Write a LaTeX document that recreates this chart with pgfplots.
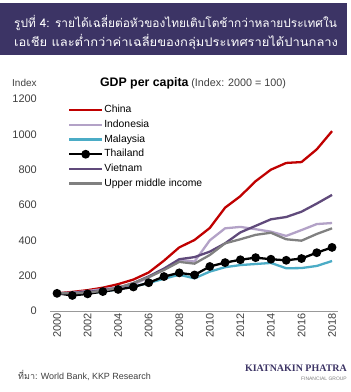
\documentclass[border=0pt]{standalone}
\usepackage{pgfplots}
\pgfplotsset{compat=1.18}
\usepackage{pgfplotstable}
\usepackage{fontspec}
\setmainfont{Liberation Sans}
\newfontfamily\thaifont[Script=Thai]{Loma}
\newfontfamily\logofont{Liberation Serif}
\definecolor{hdr}{HTML}{3C3465}
\definecolor{cChina}{HTML}{C00000}
\definecolor{cIndo}{HTML}{B3A2C7}
\definecolor{cMal}{HTML}{4BACC6}
\definecolor{cViet}{HTML}{604A7B}
\definecolor{cUMI}{HTML}{808080}
\definecolor{gridc}{HTML}{D9D9D9}
\definecolor{tickc}{HTML}{404040}

\pgfplotstableread{
year china indo mal thai viet umi
2000 100 100 100 100 100 100
2001 108 104 95 88 103 100
2002 118 113 100 97 108 104
2003 132 124 110 110 118 115
2004 152 134 123 122 130 132
2005 178 150 138 136 158 158
2006 218 190 158 160 196 192
2007 285 235 183 195 240 232
2008 360 290 205 216 293 278
2009 402 280 185 204 305 268
2010 470 400 223 252 336 317
2011 585 468 248 274 383 383
2012 650 476 260 290 445 406
2013 735 463 266 302 482 431
2014 800 449 272 293 519 443
2015 838 425 242 287 532 406
2016 843 458 243 297 562 398
2017 915 492 255 330 608 436
2018 1018 498 283 360 657 468
}\gdp

\begin{document}
\begin{tikzpicture}
\useasboundingbox (0bp,0bp) rectangle (351bp,392bp);
\fill[white] (0bp,0bp) rectangle (351bp,392bp);
% header
\fill[hdr] (0bp,337bp) rectangle (347bp,389bp);
\node[anchor=west,text=white,font=\thaifont\fontsize{11.9}{14}\selectfont,inner sep=0pt] at (14bp,369bp) {รูปที่ 4: รายได้เฉลี่ยต่อหัวของไทยเติบโตช้ากว่าหลายประเทศใน};
\node[anchor=west,text=white,font=\thaifont\fontsize{11.9}{14}\selectfont,inner sep=0pt,xscale=1.09] at (14bp,350bp) {เอเชีย และต่ำกว่าค่าเฉลี่ยของกลุ่มประเทศรายได้ปานกลาง};
% labels
\node[anchor=west,inner sep=0pt,text=tickc,font=\fontsize{10}{11}\selectfont] at (12bp,309bp) {Index};
\node[anchor=base,inner sep=0pt] at (193bp,305bp) {{\fontsize{12.4}{13}\selectfont\bfseries GDP per capita} {\fontsize{10.8}{11}\selectfont\color{tickc}(Index: 2000 = 100)}};

\begin{axis}[
  at={(50bp,81bp)}, anchor=south west,
  scale only axis, width=288bp, height=212bp,
  xmin=1999.54, xmax=2018.39, ymin=0, ymax=1200,
  axis x line*=bottom, axis y line=none,
  x axis line style={draw=cUMI!80, line width=0.8pt},
  ytick={0,200,...,1200},
  yticklabels={},
  xtick={2000,2002,...,2018},
  xticklabel style={rotate=90, anchor=east, font=\fontsize{11}{11}\selectfont, text=tickc, inner xsep=2bp},
  xticklabel={\pgfmathprintnumber[1000 sep={},assume math mode=true]{\tick}},
  ymajorgrids, grid style={gridc, line width=0.6pt},
  major tick length=0pt,
  clip=false,
  legend style={at={(0.055,0.985)}, anchor=north west, fill=none, draw=none,
    font=\fontsize{10.4}{11}\selectfont, row sep=3.2bp, inner xsep=2bp, inner ysep=2bp,
    nodes={inner sep=1bp, text height=7.5bp, text depth=2bp}},
  legend cell align=left,
  legend image code/.code={\draw[mark repeat=2,mark phase=2] plot coordinates {(0bp,0bp) (16.5bp,0bp) (33bp,0bp)};},
]
\fill[white] (axis cs:2000.07,686) rectangle (axis cs:2012.63,1190);
\addplot[cChina, line width=2.3pt, no marks] table[x=year,y=china] {\gdp};
\addlegendentry{China}
\addplot[cIndo, line width=2.3pt, no marks] table[x=year,y=indo] {\gdp};
\addlegendentry{Indonesia}
\addplot[cMal, line width=2.3pt, no marks] table[x=year,y=mal] {\gdp};
\addlegendentry{Malaysia}
\addplot[black, line width=2.3pt, mark=*, mark size=3.2bp] table[x=year,y=thai] {\gdp};
\addlegendentry{Thailand}
\addplot[cViet, line width=2.3pt, no marks] table[x=year,y=viet] {\gdp};
\addlegendentry{Vietnam}
\addplot[cUMI, line width=2.3pt, no marks] table[x=year,y=umi] {\gdp};
\addlegendentry{Upper middle income}
\end{axis}
% y tick labels
\foreach \v/\yy in {0/81,200/116.33,400/151.67,600/187,800/222.33,1000/257.67,1200/293}{
  \node[anchor=east,inner sep=0pt,text=tickc,font=\fontsize{11}{11}\selectfont] at (37bp,\yy bp) {\v};
}
% footer
\node[anchor=west,inner sep=0pt,font=\fontsize{9}{10}\selectfont,text=tickc] at (18bp,17bp) {{\thaifont ที่มา:} World Bank, KKP Research};
\node[anchor=east,inner sep=0pt,font=\logofont\fontsize{10}{11}\selectfont\bfseries,text=hdr] at (347bp,24bp) {KIATNAKIN PHATRA};
\node[anchor=east,inner sep=0pt,font=\fontsize{5}{6}\selectfont,text=cUMI] at (347bp,13bp) {FINANCIAL GROUP};
\end{tikzpicture}
\end{document}
